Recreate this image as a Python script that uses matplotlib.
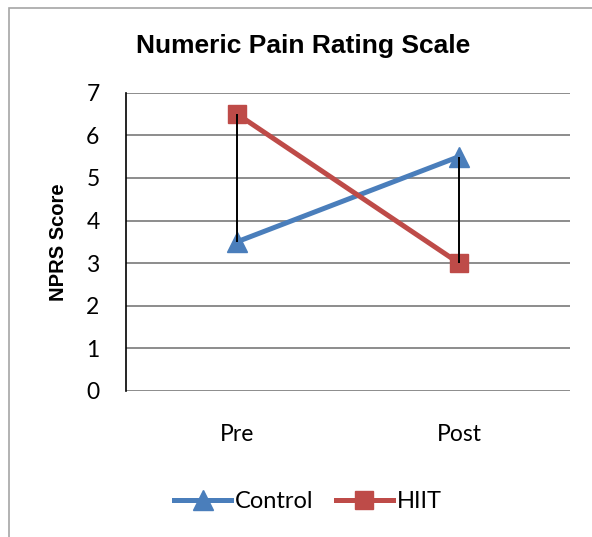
import matplotlib
matplotlib.use("Agg")
import matplotlib.pyplot as plt
from matplotlib.patches import Rectangle

# NPRS means
categories = ["Pre", "Post"]
control = [3.5, 5.5]
hiit = [6.5, 3.0]
y_ticks = [0, 1, 2, 3, 4, 5, 6, 7]

blue = "#4A7EBB"
red = "#BE4B48"

fig = plt.figure(figsize=(5.92, 5.37), dpi=100)
ax = fig.add_axes([126 / 592, 1 - 390.9 / 537, (570 - 126) / 592, (390.9 - 92.7) / 537])

# chart border (cut off on the right and bottom)
fig.patches.append(Rectangle((9 / 592, -0.05), 1.2, 1 - 8 / 537 + 0.05,
                             transform=fig.transFigure, fill=False,
                             edgecolor="#a6a6a6", linewidth=1.2))

x = list(range(len(categories)))

# high-low lines between the two series
lows = [min(a, b) for a, b in zip(control, hiit)]
highs = [max(a, b) for a, b in zip(control, hiit)]
ax.vlines(x, lows, highs, color="black", linewidth=1.4, zorder=5)

ax.plot(x, control, color=blue, linewidth=3.6, marker="^", markersize=14,
        label="Control", zorder=3)
ax.plot(x, hiit, color=red, linewidth=3.6, marker="s", markersize=13,
        label="HIIT", zorder=4)

ax.set_xlim(-0.5, len(categories) - 0.5)
ax.set_ylim(0, 7)
ax.set_yticks(y_ticks)
ax.set_xticks(x)
ax.set_xticklabels(categories)

for s in ["top", "right", "bottom"]:
    ax.spines[s].set_visible(False)
ax.spines["left"].set_color("black")
ax.spines["left"].set_linewidth(1.2)
ax.yaxis.grid(True, color="#8c8c8c", linewidth=1.4)
ax.set_axisbelow(True)

ax.tick_params(axis="y", length=0, pad=19, labelsize=16.5)
ax.tick_params(axis="x", length=0, pad=24, labelsize=16.5)
for lab in ax.get_xticklabels() + ax.get_yticklabels():
    lab.set_family("Lato")

fig.text(58 / 592, 1 - 242 / 537, "NPRS Score", rotation=90, ha="center",
         va="center", fontsize=14.5, fontweight="bold", family="Liberation Sans")
fig.text(303 / 592, 1 - 46 / 537, "Numeric Pain Rating Scale", ha="center",
         va="center", fontsize=19, fontweight="bold", family="Liberation Sans")

leg = fig.legend(loc="center", bbox_to_anchor=(308 / 592, 1 - 502 / 537),
                 ncol=2, frameon=False, handlelength=2.4, columnspacing=0.95,
                 handletextpad=0.17, prop={"family": "Lato", "size": 17})

fig.savefig("out.png", dpi=100)
